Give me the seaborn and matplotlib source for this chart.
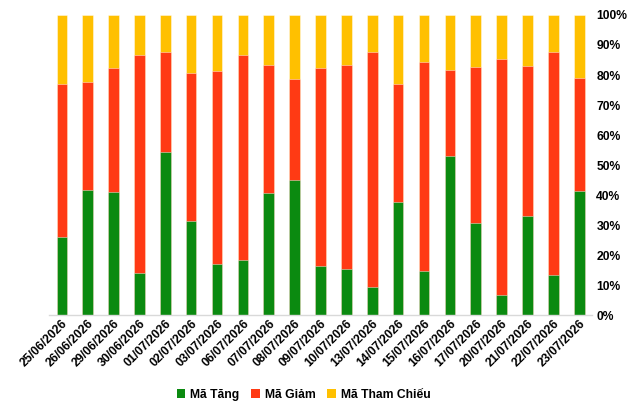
import numpy as np
import pandas as pd
import matplotlib
matplotlib.use('Agg')
import matplotlib.pyplot as plt
import seaborn as sns
from matplotlib.patches import Patch
from matplotlib.ticker import FuncFormatter

dates = ['25/06/2026', '26/06/2026', '29/06/2026', '30/06/2026', '01/07/2026', '02/07/2026',
         '03/07/2026', '06/07/2026', '07/07/2026', '08/07/2026', '09/07/2026', '10/07/2026',
         '13/07/2026', '14/07/2026', '15/07/2026', '16/07/2026', '17/07/2026', '20/07/2026',
         '21/07/2026', '22/07/2026', '23/07/2026']
ma_tang = [25.9, 41.8, 41.1, 13.9, 54.4, 31.2, 17.1, 18.2, 40.8, 45.1, 16.3,
           15.2, 9.2, 37.6, 14.8, 52.9, 30.7, 6.6, 32.9, 13.2, 41.4]
ma_giam = [51.1, 36.0, 41.1, 72.8, 33.3, 49.5, 64.2, 68.5, 42.5, 33.6, 65.9,
           68.2, 78.4, 39.5, 69.5, 28.8, 52.0, 78.8, 50.2, 74.5, 37.7]
ma_tham_chieu = [23.0, 22.2, 17.8, 13.3, 12.3, 19.3, 18.7, 13.3, 16.7, 21.3, 17.8,
                 16.6, 12.4, 22.9, 15.7, 18.3, 17.3, 14.6, 16.9, 12.3, 20.9]

series = ['Mã Tăng', 'Mã Giảm', 'Mã Tham Chiếu']
colors = ['#0B8A10', '#FF3A14', '#FFC000']

plt.rcParams['font.family'] = ['Liberation Sans', 'DejaVu Sans']

df = pd.DataFrame({'date': dates, 'Mã Tăng': ma_tang, 'Mã Giảm': ma_giam,
                   'Mã Tham Chiếu': ma_tham_chieu})
# cumulative heights for stacking, drawn top layer first
cum = df[series].cumsum(axis=1)

fig = plt.figure(figsize=(6.43, 4.05), dpi=100)
ax = fig.add_axes([0.076, 0.222, 0.845, 0.741])

for s, c in reversed(list(zip(series, colors))):
    sns.barplot(x=df['date'], y=cum[s], color=c, width=0.41, ax=ax,
                edgecolor=(1, 1, 1, 0.5), linewidth=0.6, saturation=1)

ax.set_ylim(0, 100)
ax.set_xlim(-0.5, len(dates) - 0.5)
ax.set_yticks(np.arange(0, 101, 10))
ax.yaxis.set_major_formatter(FuncFormatter(lambda v, _: f'{v:.0f}%'))
ax.yaxis.tick_right()
ax.tick_params(axis='both', length=0, labelsize=8.7)
ax.tick_params(axis='y', pad=3)
ax.tick_params(axis='x', pad=2)
for lbl in ax.get_yticklabels():
    lbl.set_fontweight('bold')
for lbl in ax.get_xticklabels():
    lbl.set_fontweight('bold')
    lbl.set_rotation(45)
    lbl.set_ha('right')
    lbl.set_rotation_mode('anchor')
ax.set_xlabel('')
ax.set_ylabel('')
for sp in ['top', 'left', 'right']:
    ax.spines[sp].set_visible(False)
ax.spines['bottom'].set_color('#D9D9D9')
ax.spines['bottom'].set_linewidth(1)

handles = [Patch(facecolor=c, edgecolor='none') for c in colors]
fig.legend(handles, series, loc='center', bbox_to_anchor=(0.472, 0.025), ncol=3,
           frameon=False, prop={'weight': 'bold', 'size': 8.7},
           handlelength=0.7, handleheight=0.7, handletextpad=0.4, columnspacing=1.0)

fig.savefig('out.png', dpi=100)
